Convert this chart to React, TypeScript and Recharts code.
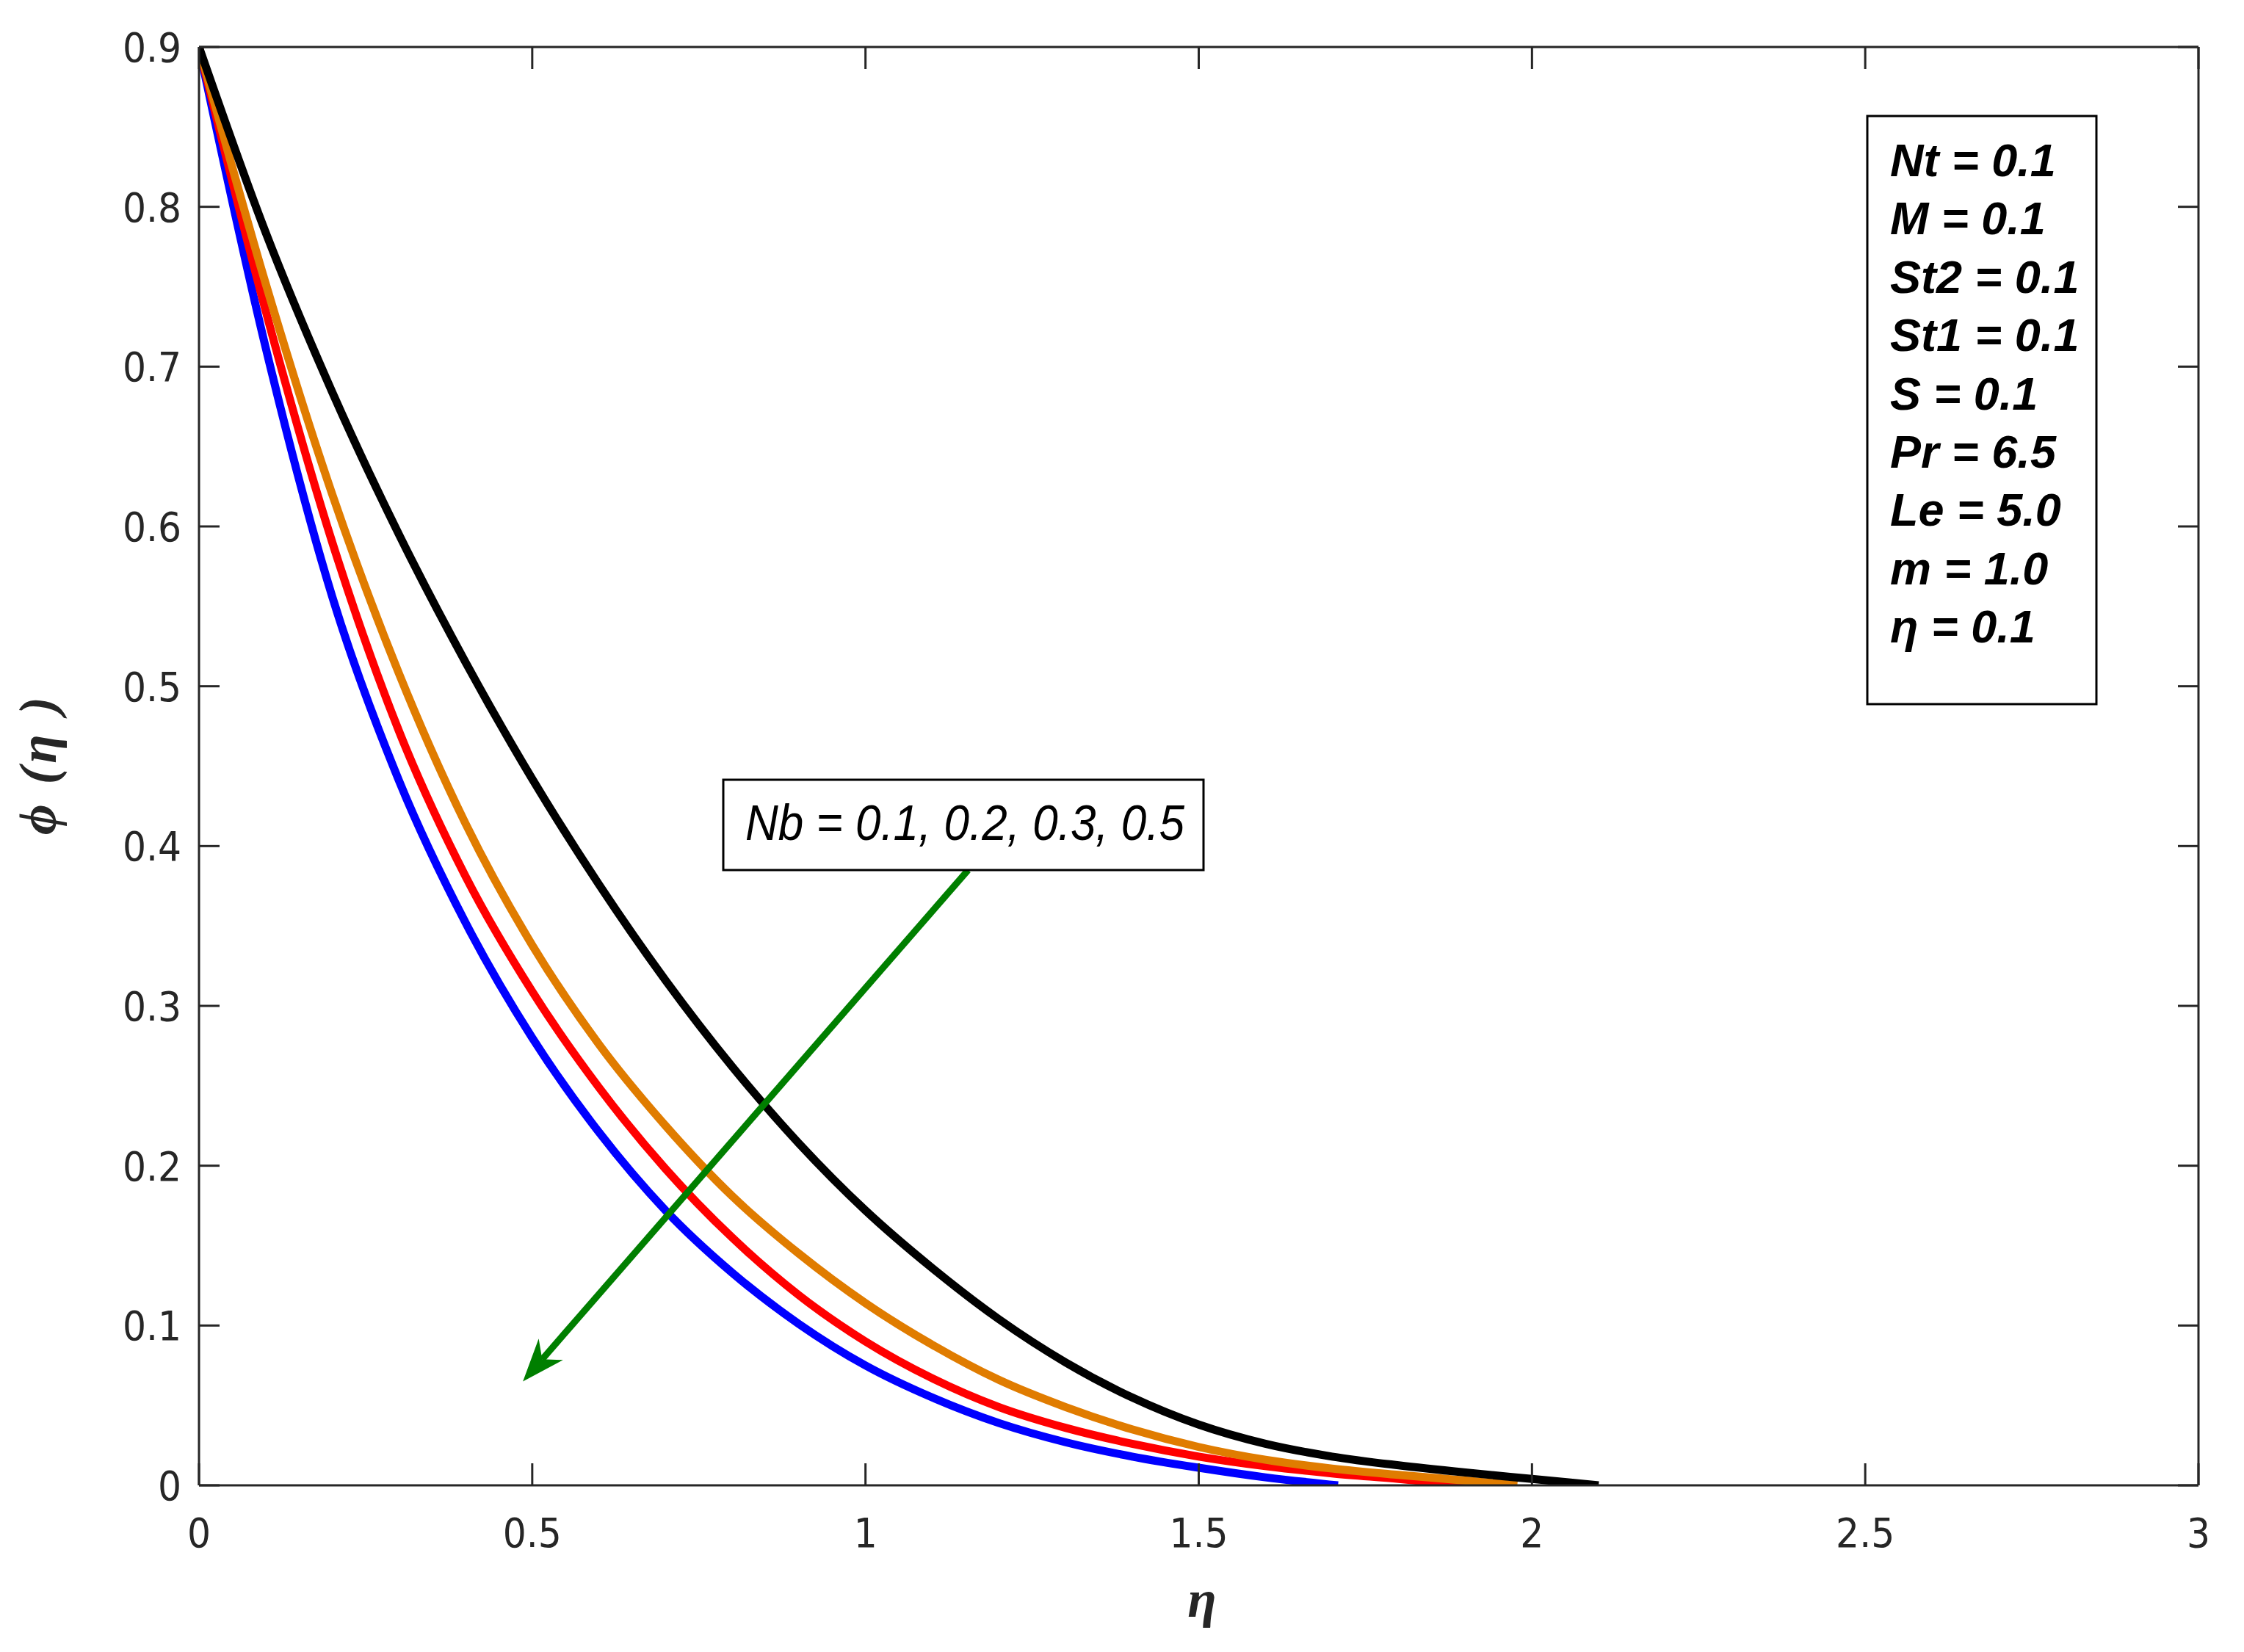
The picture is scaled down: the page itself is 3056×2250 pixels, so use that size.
import { LineChart, Line, XAxis, YAxis, ReferenceLine } from "recharts";

// axes
const etaTicks = [0, 0.5, 1, 1.5, 2, 2.5, 3];
const phiTicks = [0, 0.1, 0.2, 0.3, 0.4, 0.5, 0.6, 0.7, 0.8, 0.9];

// Nb = 0.1 (black)
const nb1Eta = [0, 0.1, 0.2, 0.3, 0.4, 0.5, 0.6, 0.7, 0.8, 0.9, 1.0, 1.1, 1.2, 1.3, 1.4, 1.5, 1.6, 1.7, 1.8, 1.9, 2.0, 2.1];
const nb1Phi = [0.9, 0.784, 0.684, 0.595, 0.515, 0.442, 0.376, 0.316, 0.262, 0.214, 0.172, 0.136, 0.104, 0.077, 0.055, 0.038, 0.026, 0.018, 0.0125, 0.008, 0.004, 0];

// Nb = 0.2 (orange)
const nb2Eta = [0, 0.1, 0.2, 0.3, 0.4, 0.5, 0.6, 0.7, 0.8, 0.9, 1.0, 1.1, 1.2, 1.3, 1.4, 1.5, 1.6, 1.7, 1.8, 1.9, 1.978];
const nb2Phi = [0.9, 0.752, 0.62, 0.508, 0.414, 0.338, 0.276, 0.225, 0.181, 0.145, 0.114, 0.088, 0.066, 0.049, 0.035, 0.024, 0.016, 0.0105, 0.0065, 0.003, 0];

// Nb = 0.3 (red)
const nb3Eta = [0, 0.1, 0.2, 0.3, 0.4, 0.5, 0.6, 0.7, 0.8, 0.9, 1.0, 1.1, 1.2, 1.3, 1.4, 1.5, 1.6, 1.7, 1.8, 1.902];
const nb3Phi = [0.9, 0.735, 0.59, 0.472, 0.381, 0.309, 0.249, 0.198, 0.155, 0.119, 0.09, 0.067, 0.049, 0.036, 0.026, 0.018, 0.012, 0.0075, 0.004, 0];

// Nb = 0.5 (blue)
const nb5Eta = [0, 0.1, 0.2, 0.3, 0.4, 0.5, 0.6, 0.7, 0.8, 0.9, 1.0, 1.1, 1.2, 1.3, 1.4, 1.5, 1.6, 1.709];
const nb5Phi = [0.9, 0.712, 0.556, 0.441, 0.352, 0.28, 0.221, 0.172, 0.133, 0.101, 0.075, 0.055, 0.039, 0.027, 0.018, 0.011, 0.005, 0];

const paramLines = ["Nt = 0.1", "M = 0.1", "St2 = 0.1", "St1 = 0.1", "S = 0.1", "Pr = 6.5", "Le = 5.0", "m = 1.0", "η = 0.1"];
const nbLabel = "Nb = 0.1, 0.2, 0.3, 0.5";

// arrow in data units
const arrowFrom = { eta: 1.154, phi: 0.385 };
const arrowTo = { eta: 0.486, phi: 0.065 };

const toRows = (eta: number[], phi: number[]) => eta.map((e, i) => ({ eta: e, phi: phi[i] }));

const series = [
  { name: "Nb = 0.5", color: "#0000ff", data: toRows(nb5Eta, nb5Phi) },
  { name: "Nb = 0.3", color: "#ff0000", data: toRows(nb3Eta, nb3Phi) },
  { name: "Nb = 0.2", color: "#e07c00", data: toRows(nb2Eta, nb2Phi) },
  { name: "Nb = 0.1", color: "#000000", data: toRows(nb1Eta, nb1Phi) },
];

const AXIS = "#262626";
const tickFont = "'Liberation Sans Narrow', 'DejaVu Sans Condensed', 'Liberation Sans', Arial, sans-serif";
const tickStyle = { fill: AXIS, fontSize: 56, fontFamily: tickFont };
const lineStyle = { stroke: AXIS, strokeWidth: 3 };

function Arrow(props: any) {
  const { x1, y1, x2, y2 } = props;
  const dx = x1 - x2;
  const dy = y1 - y2;
  const len = Math.sqrt(dx * dx + dy * dy) || 1;
  const ux = dx / len;
  const uy = dy / len;
  const nx = -uy;
  const ny = ux;
  const headLen = 58;
  const half = 22;
  const notch = 40;
  const c1x = x2 + ux * headLen + nx * half;
  const c1y = y2 + uy * headLen + ny * half;
  const c2x = x2 + ux * headLen - nx * half;
  const c2y = y2 + uy * headLen - ny * half;
  const bx = x2 + ux * notch;
  const by = y2 + uy * notch;
  return (
    <g>
      <line x1={x1} y1={y1} x2={bx} y2={by} stroke="#007f00" strokeWidth={9} />
      <polygon points={`${x2},${y2} ${c1x},${c1y} ${bx},${by} ${c2x},${c2y}`} fill="#007f00" />
    </g>
  );
}

export default function App() {
  return (
    <div style={{ position: "absolute", left: 0, top: 0, width: 3056, height: 2250, background: "#fff" }}>
      <LineChart width={3056} height={2250} margin={{ top: 0, right: 0, bottom: 0, left: 0 }}>
        <XAxis
          dataKey="eta"
          type="number"
          domain={[0, 3]}
          ticks={etaTicks}
          allowDataOverflow
          height={227}
          tickSize={-30}
          tickMargin={74}
          tick={tickStyle}
          axisLine={lineStyle}
          tickLine={lineStyle}
          interval={0}
        />
        <XAxis
          xAxisId="top"
          orientation="top"
          dataKey="eta"
          type="number"
          domain={[0, 3]}
          ticks={etaTicks}
          allowDataOverflow
          height={64}
          tickSize={-30}
          tickFormatter={() => ""}
          axisLine={lineStyle}
          tickLine={lineStyle}
          interval={0}
        />
        <YAxis
          type="number"
          domain={[0, 0.9]}
          ticks={phiTicks}
          allowDataOverflow
          width={271}
          tickSize={-28}
          tickMargin={52}
          tick={tickStyle}
          axisLine={lineStyle}
          tickLine={lineStyle}
          interval={0}
        />
        <YAxis
          yAxisId="right"
          orientation="right"
          type="number"
          domain={[0, 0.9]}
          ticks={phiTicks}
          allowDataOverflow
          width={62}
          tickSize={-28}
          tickFormatter={() => ""}
          axisLine={lineStyle}
          tickLine={lineStyle}
          interval={0}
        />
        {series.map((s) => (
          <Line
            key={s.name}
            data={s.data}
            dataKey="phi"
            type="monotone"
            stroke={s.color}
            strokeWidth={11}
            dot={false}
            activeDot={false}
            isAnimationActive={false}
          />
        ))}
        <ReferenceLine
          segment={[
            { x: arrowFrom.eta, y: arrowFrom.phi },
            { x: arrowTo.eta, y: arrowTo.phi },
          ]}
          ifOverflow="visible"
          shape={Arrow}
        />
      </LineChart>
      <svg
        width={3056}
        height={2250}
        style={{ position: "absolute", left: 0, top: 0, pointerEvents: "none" }}
      >
        {/* parameter box */}
        <rect x={2543} y={158} width={312} height={801} fill="#fff" stroke="#000" strokeWidth={3} />
        {paramLines.map((t, i) => (
          <text
            key={t}
            x={2574}
            y={240 + i * 79.4}
            fontFamily="'Liberation Sans', Arial, sans-serif"
            fontWeight="bold"
            fontStyle="italic"
            fontSize={63}
            fill="#000"
          >
            {t}
          </text>
        ))}
        {/* Nb label */}
        <rect x={985} y={1062} width={654} height={123} fill="#fff" stroke="#000" strokeWidth={3} />
        <text
          x={1015}
          y={1144}
          fontFamily="'Liberation Sans', Arial, sans-serif"
          fontStyle="italic"
          fontSize={68}
          textLength={598}
          lengthAdjust="spacingAndGlyphs"
          fill="#000"
        >
          {nbLabel}
        </text>
        {/* axis titles */}
        <text
          x={1637}
          y={2202}
          textAnchor="middle"
          fontFamily="'Liberation Serif', 'DejaVu Serif', serif"
          fontWeight="bold"
          fontStyle="italic"
          fontSize={72}
          fill={AXIS}
        >
          η
        </text>
        <text
          transform="translate(76,1043) rotate(-90)"
          textAnchor="middle"
          fontFamily="'Liberation Serif', 'DejaVu Serif', serif"
          fontWeight="bold"
          fontStyle="italic"
          fontSize={72}
          textLength={188}
          lengthAdjust="spacing"
          fill={AXIS}
        >
          ϕ (η )
        </text>
      </svg>
    </div>
  );
}
